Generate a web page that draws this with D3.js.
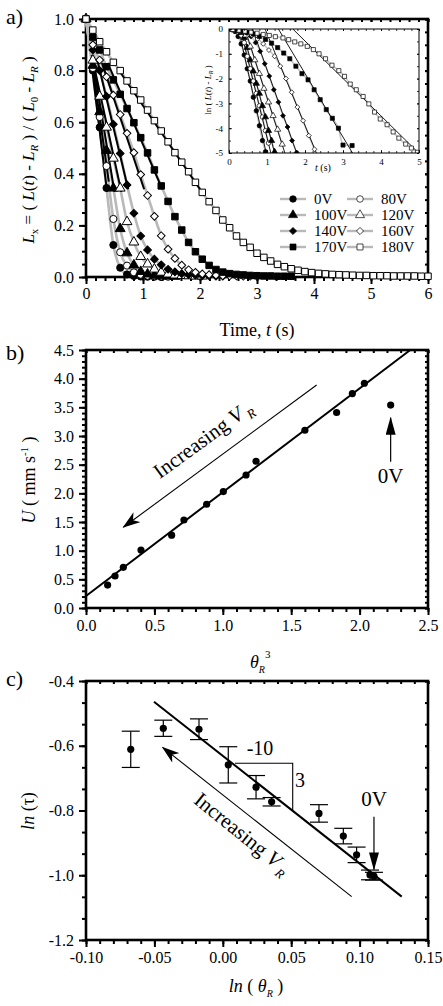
<!DOCTYPE html>
<html>
<head>
<meta charset="utf-8">
<script src="https://cdn.jsdelivr.net/npm/d3@7"></script>
<style>
body { margin: 0; background: #fff; }
svg text { font-family: "Liberation Serif", "Times New Roman", serif; fill: #000; }
</style>
</head>
<body>
<script>
// ---------- panel a : relaxation curves, one frame every 0.12 s ----------
const frameStep = 0.12;
const voltages = ['0V', '80V', '100V', '120V', '140V', '160V', '170V', '180V'];
const shapes = ['circle', 'circle', 'triangle', 'triangle', 'diamond', 'diamond', 'square', 'square'];
const filled = [true, false, true, false, true, false, true, false];

const lx0V   = [1.0, 0.80, 0.58, 0.345, 0.124, 0.036, 0.010, 0.004, 0.002, 0.001, 0.001, 0.0];
const lx80V  = [1.0, 0.81, 0.62, 0.43, 0.225, 0.096, 0.044, 0.018, 0.009, 0.005, 0.003, 0.002, 0.001];
const lx100V = [1.0, 0.82, 0.64, 0.49, 0.344, 0.187, 0.093, 0.046, 0.021, 0.011, 0.006, 0.004, 0.003, 0.002];
const lx120V = [1.0, 0.84, 0.70, 0.58, 0.46, 0.344, 0.214, 0.135, 0.079, 0.050, 0.030, 0.018, 0.011, 0.007, 0.005, 0.004, 0.003, 0.003];
const lx140V = [1.0, 0.88, 0.80, 0.70, 0.592, 0.479, 0.357, 0.247, 0.159, 0.105, 0.069, 0.047, 0.030, 0.020, 0.013, 0.009, 0.007, 0.005, 0.004, 0.003, 0.003];
const lx160V = [1.0, 0.90, 0.841, 0.776, 0.705, 0.630, 0.557, 0.482, 0.397, 0.316, 0.235, 0.160, 0.108, 0.072, 0.046, 0.028, 0.018, 0.012, 0.009, 0.007, 0.005, 0.004, 0.004, 0.003, 0.003, 0.003];
const lx170V = [1.0, 0.93, 0.88, 0.815, 0.764, 0.708, 0.653, 0.598, 0.540, 0.481, 0.415, 0.353, 0.293, 0.234, 0.182, 0.134, 0.098, 0.069, 0.045, 0.029, 0.019, 0.013, 0.010, 0.008, 0.006, 0.005, 0.004, 0.004, 0.003, 0.003, 0.003];
const lx180V = [1.0, 0.957, 0.912, 0.873, 0.832, 0.800, 0.760, 0.722, 0.686, 0.647, 0.606, 0.566, 0.524, 0.482, 0.445, 0.408, 0.367, 0.328, 0.292, 0.258, 0.221, 0.191, 0.159, 0.134, 0.115, 0.092, 0.076, 0.062, 0.049, 0.040, 0.032, 0.026, 0.021, 0.017, 0.014, 0.012, 0.010, 0.009, 0.008, 0.007, 0.006, 0.006, 0.005, 0.005, 0.005, 0.004, 0.004, 0.004, 0.004, 0.003, 0.003];
const lxSeries = [lx0V, lx80V, lx100V, lx120V, lx140V, lx160V, lx170V, lx180V];

// linear fits over the early part: [t start, Lx start, t end, Lx end]
const fitA = [
  [0.10, 0.82, 0.37, 0.33],
  [0.10, 0.84, 0.40, 0.37],
  [0.10, 0.86, 0.50, 0.33],
  [0.12, 0.84, 0.62, 0.33],
  [0.20, 0.84, 0.74, 0.34],
  [0.28, 0.83, 1.02, 0.34],
  [0.38, 0.83, 1.34, 0.34],
  [0.55, 0.81, 2.00, 0.34]
];

// inset: ln(L(t) - L_R) against t, [t, value]
const ins0V   = [[0.08,-0.03],[0.16,-0.10],[0.24,-0.30],[0.32,-0.60],[0.40,-1.05],[0.48,-1.60],[0.56,-2.10],[0.64,-2.75],[0.72,-3.30],[0.80,-3.90],[0.88,-4.50],[0.96,-4.95]];
const ins80V  = [[0.08,-0.02],[0.16,-0.06],[0.24,-0.12],[0.32,-0.25],[0.40,-0.55],[0.48,-1.10],[0.56,-1.60],[0.64,-2.10],[0.72,-2.60],[0.80,-3.10],[0.88,-3.55],[0.96,-4.10],[1.04,-4.60]];
const ins100V = [[0.08,-0.01],[0.16,-0.03],[0.24,-0.07],[0.32,-0.15],[0.40,-0.35],[0.48,-0.75],[0.56,-1.25],[0.64,-1.70],[0.72,-2.20],[0.80,-2.60],[0.88,-3.10],[0.96,-3.55],[1.04,-4.10],[1.12,-4.50],[1.20,-4.95]];
const ins120V = [[0.08,-0.01],[0.20,-0.04],[0.32,-0.10],[0.44,-0.25],[0.56,-0.70],[0.68,-1.25],[0.80,-1.80],[0.92,-2.40],[1.04,-2.95],[1.16,-3.50],[1.28,-4.05],[1.40,-4.65]];
const ins140V = [[0.10,-0.01],[0.22,-0.03],[0.34,-0.07],[0.46,-0.15],[0.58,-0.30],[0.70,-0.55],[0.82,-0.90],[0.94,-1.40],[1.06,-1.90],[1.18,-2.45],[1.30,-2.95],[1.42,-3.50],[1.54,-3.95],[1.66,-4.50],[1.78,-4.98]];
const ins160V = [[0.15,-0.02],[0.30,-0.06],[0.45,-0.13],[0.60,-0.25],[0.75,-0.40],[0.90,-0.60],[1.05,-0.85],[1.20,-1.10],[1.35,-1.50],[1.50,-2.00],[1.65,-2.55],[1.80,-3.15],[1.95,-3.70],[2.10,-4.30],[2.25,-4.85]];
const ins170V = [[0.16,-0.03],[0.32,-0.07],[0.48,-0.13],[0.64,-0.20],[0.80,-0.30],[0.96,-0.42],[1.12,-0.57],[1.28,-0.75],[1.44,-0.97],[1.60,-1.20],[1.76,-1.50],[1.92,-1.80],[2.08,-2.05],[2.24,-2.45],[2.40,-2.85],[2.56,-3.25],[2.72,-3.60],[2.88,-4.00],[3.00,-4.68],[3.24,-4.70]];
const ins180V = [[0.10,-0.02],[0.26,-0.05],[0.42,-0.09],[0.58,-0.13],[0.74,-0.17],[0.90,-0.22],[1.06,-0.26],[1.22,-0.31],[1.42,-0.36],[1.57,-0.43],[1.73,-0.52],[1.89,-0.60],[2.06,-0.70],[2.22,-0.83],[2.37,-1.00],[2.54,-1.20],[2.71,-1.46],[2.89,-1.68],[3.04,-1.91],[3.19,-2.22],[3.35,-2.45],[3.53,-2.72],[3.68,-3.02],[3.83,-3.35],[3.98,-3.63],[4.16,-3.86],[4.32,-4.15],[4.47,-4.40],[4.65,-4.64],[4.80,-4.80],[4.96,-4.97]];
const insSeries = [ins0V, ins80V, ins100V, ins120V, ins140V, ins160V, ins170V, ins180V];
// inset fits: t where the line is at 0 and at -5
const fitInset = [[0.25, 0.98], [0.30, 1.10], [0.35, 1.20], [0.42, 1.47], [0.62, 1.78], [0.95, 2.30], [1.30, 3.25], [1.68, 4.99]];

// ---------- panel b : speed vs theta^3 ----------
const thetaR3 = [0.158, 0.212, 0.273, 0.402, 0.626, 0.716, 0.882, 1.004, 1.170, 1.243, 1.600, 1.832, 1.947, 2.035];
const speedU  = [0.40, 0.558, 0.71, 1.01, 1.27, 1.535, 1.81, 2.03, 2.32, 2.56, 3.10, 3.41, 3.74, 3.92];
const zeroVoltB = [2.227, 3.54];
const fitB = [0.21, 1.81]; // intercept, slope

// ---------- panel c : ln(tau) vs ln(theta) ----------
const lnTheta = [-0.0673, -0.0435, -0.0174, 0.004, 0.0243, 0.0357, 0.0703, 0.0881, 0.0978, 0.1076, 0.1105];
const lnTau   = [-0.611, -0.546, -0.549, -0.659, -0.728, -0.773, -0.809, -0.879, -0.937, -0.999, -1.003];
const tauErr  = [0.056, 0.025, 0.032, 0.056, 0.036, 0.013, 0.027, 0.024, 0.024, 0.015, 0.012];
const fitC = [[-0.0503, -0.464], [0.1308, -1.066]];

const W = 443, H = 1006;
const svg = d3.select('body').append('svg').attr('width', W).attr('height', H);
const defs = svg.append('defs');

const xA = d3.scaleLinear().domain([0, 6]).range([86, 428]);
const yA = d3.scaleLinear().domain([0, 1]).range([277, 19]);
const xI = d3.scaleLinear().domain([0, 5]).range([229, 419]);
const yI = d3.scaleLinear().domain([-5, 0]).range([153, 29]);
const xB = d3.scaleLinear().domain([0, 2.5]).range([86, 428]);
const yB = d3.scaleLinear().domain([0, 4.5]).range([608, 350]);
const xC = d3.scaleLinear().domain([-0.1, 0.15]).range([86, 428]);
const yC = d3.scaleLinear().domain([-1.2, -0.4]).range([940, 681]);

// arrow heads
defs.append('marker').attr('id', 'headDart').attr('viewBox', '0 0 18 12').attr('refX', 17).attr('refY', 6)
  .attr('markerWidth', 18).attr('markerHeight', 12).attr('markerUnits', 'userSpaceOnUse').attr('orient', 'auto')
  .append('path').attr('d', 'M0,0 L18,6 L0,12 L5,6 Z').attr('fill', '#000');
defs.append('marker').attr('id', 'headTri').attr('viewBox', '0 0 18 10').attr('refX', 17).attr('refY', 5)
  .attr('markerWidth', 18).attr('markerHeight', 10).attr('markerUnits', 'userSpaceOnUse').attr('orient', 'auto')
  .append('path').attr('d', 'M0,0 L18,5 L0,10 Z').attr('fill', '#000');

const symbolType = {circle: d3.symbolCircle, triangle: d3.symbolTriangle, square: d3.symbolSquare, diamond: d3.symbolSquare};

function drawMarkers(g, pts, k, scale) {
  const s = scale || 1;
  const size = {circle: 40, triangle: 42, square: 42, diamond: 30}[shapes[k]] * s;
  g.selectAll(null).data(pts).enter().append('path')
    .attr('d', d3.symbol().type(symbolType[shapes[k]]).size(size))
    .attr('transform', d => 'translate(' + d[0] + ',' + d[1] + ')' + (shapes[k] === 'diamond' ? ' rotate(45)' : ''))
    .attr('fill', filled[k] ? '#000' : '#fff')
    .attr('stroke', '#000')
    .attr('stroke-width', s < 1 ? 0.7 : 1);
}

function frame(g, x, y, o) {
  const [xl, xr] = x.range();
  const [yb, yt] = y.range();
  const ax = [];
  ax.push(g.append('g').attr('transform', 'translate(0,' + yb + ')')
    .call(d3.axisBottom(x).tickValues(o.xMinor).tickSize(o.minLen).tickFormat('')));
  ax.push(g.append('g').attr('transform', 'translate(0,' + yb + ')')
    .call(d3.axisBottom(x).tickValues(o.xMajor).tickSize(o.majLen).tickPadding(o.padX).tickFormat(o.fmtX)));
  ax.push(g.append('g').attr('transform', 'translate(' + xl + ',0)')
    .call(d3.axisLeft(y).tickValues(o.yMinor).tickSize(o.minLen).tickFormat('')));
  ax.push(g.append('g').attr('transform', 'translate(' + xl + ',0)')
    .call(d3.axisLeft(y).tickValues(o.yMajor).tickSize(o.majLen).tickPadding(o.padY).tickFormat(o.fmtY)));
  ax.push(g.append('g').attr('transform', 'translate(0,' + yt + ')')
    .call(d3.axisTop(x).tickValues(o.xMinor.concat(o.xMajor)).tickSize(-o.inLen).tickFormat('')));
  ax.push(g.append('g').attr('transform', 'translate(' + xr + ',0)')
    .call(d3.axisRight(y).tickValues(o.yMinor.concat(o.yMajor)).tickSize(-o.inLen).tickFormat('')));
  ax.forEach(a => {
    a.attr('font-family', null).attr('font-size', o.fs);
    a.select('.domain').remove();
    a.selectAll('.tick line').attr('stroke-width', o.tickW);
  });
  g.append('rect')
    .attr('x', xl).attr('y', yt).attr('width', xr - xl).attr('height', yb - yt)
    .attr('fill', 'none').attr('stroke', '#000').attr('stroke-width', o.frameW);
}

function steps(a, b, n) {
  const out = [];
  for (let i = 0; i <= n; i++) out.push(a + (b - a) * i / n);
  return out;
}

// ===== panel a =====
const gA = svg.append('g');
frame(gA, xA, yA, {
  xMajor: [0, 1, 2, 3, 4, 5, 6], xMinor: steps(0, 6, 36),
  yMajor: [0, 0.2, 0.4, 0.6, 0.8, 1.0], yMinor: steps(0, 1, 20),
  majLen: 7, minLen: 4, inLen: 3, padX: 4, padY: 5, fs: 16, tickW: 2, frameW: 2.6,
  fmtX: d => d.toFixed(0), fmtY: d => d.toFixed(1)
});

const grayLine = d3.line().curve(d3.curveMonotoneX);
lxSeries.forEach((s, k) => {
  const pts = s.map((v, i) => [xA(i * frameStep), yA(v)]);
  gA.append('path').attr('d', grayLine(pts)).attr('fill', 'none')
    .attr('stroke', '#b9b9b9').attr('stroke-width', 2.6);
});
fitA.forEach(f => {
  gA.append('line')
    .attr('x1', xA(f[0])).attr('y1', yA(f[1])).attr('x2', xA(f[2])).attr('y2', yA(f[3]))
    .attr('stroke', '#000').attr('stroke-width', 2);
});
lxSeries.forEach((s, k) => {
  drawMarkers(gA, s.map((v, i) => [xA(i * frameStep), yA(v)]), k);
});

gA.append('text').attr('x', 6).attr('y', 24).attr('font-size', 22).text('a)');
gA.append('text').attr('x', 257).attr('y', 336).attr('font-size', 18).attr('text-anchor', 'middle')
  .html('Time, <tspan font-style="italic">t</tspan> (s)');
gA.append('text').attr('transform', 'translate(34,150) rotate(-90)').attr('font-size', 17).attr('text-anchor', 'middle')
  .html('<tspan font-style="italic">L</tspan><tspan font-size="11" dy="4">x</tspan><tspan dy="-4"> = ( </tspan><tspan font-style="italic">L</tspan>(<tspan font-style="italic">t</tspan>) - <tspan font-style="italic">L</tspan><tspan font-size="11" font-style="italic" dy="4">R</tspan><tspan dy="-4"> ) / ( </tspan><tspan font-style="italic">L</tspan><tspan font-size="11" dy="4">0</tspan><tspan dy="-4"> - </tspan><tspan font-style="italic">L</tspan><tspan font-size="11" font-style="italic" dy="4">R</tspan><tspan dy="-4"> )</tspan>');

// legend
const legendRows = [199, 215, 231, 247];
voltages.forEach((v, k) => {
  const col = k % 2, row = Math.floor(k / 2);
  const x0 = col === 0 ? 280 : 347, y0 = legendRows[row];
  gA.append('line').attr('x1', x0).attr('x2', x0 + 26).attr('y1', y0).attr('y2', y0)
    .attr('stroke', '#b9b9b9').attr('stroke-width', 2.4);
  drawMarkers(gA, [[x0 + 13, y0]], k, 0.85);
  gA.append('text').attr('x', x0 + 34).attr('y', y0 + 5).attr('font-size', 15).text(v);
});

// inset
const gI = svg.append('g');
gI.append('rect').attr('x', 229).attr('y', 29).attr('width', 190).attr('height', 124).attr('fill', '#fff');
defs.append('clipPath').attr('id', 'insetClip')
  .append('rect').attr('x', 229).attr('y', 29).attr('width', 190).attr('height', 124);
const gIc = gI.append('g').attr('clip-path', 'url(#insetClip)');
insSeries.forEach(s => {
  gIc.append('path').attr('d', grayLine(s.map(p => [xI(p[0]), yI(p[1])]))).attr('fill', 'none')
    .attr('stroke', '#c4c4c4').attr('stroke-width', 1.6);
});
fitInset.forEach(f => {
  gIc.append('line').attr('x1', xI(f[0])).attr('y1', yI(0)).attr('x2', xI(f[1])).attr('y2', yI(-5))
    .attr('stroke', '#000').attr('stroke-width', 0.9);
});
insSeries.forEach((s, k) => drawMarkers(gIc, s.map(p => [xI(p[0]), yI(p[1])]), k, 0.4));
const insAxes = gI.append('g');
frame(insAxes, xI, yI, {
  xMajor: [0, 1, 2, 3, 4, 5], xMinor: steps(0, 5, 25),
  yMajor: [-5, -4, -3, -2, -1, 0], yMinor: steps(-5, 0, 10),
  majLen: -3, minLen: -2, inLen: 2, padX: 6, padY: 6, fs: 9, tickW: 0.8, frameW: 1,
  fmtX: d => d.toFixed(0), fmtY: d => d.toFixed(0)
});
gI.append('text').attr('x', 323).attr('y', 171).attr('font-size', 10).attr('text-anchor', 'middle')
  .html('<tspan font-style="italic">t</tspan> (s)');
gI.append('text').attr('transform', 'translate(211,90) rotate(-90)').attr('font-size', 9).attr('text-anchor', 'middle')
  .html('ln ( <tspan font-style="italic">L</tspan>(<tspan font-style="italic">t</tspan>) - <tspan font-style="italic">L</tspan><tspan font-size="6" font-style="italic" dy="2">R</tspan><tspan dy="-2"> )</tspan>');

// ===== panel b =====
const gB = svg.append('g');
frame(gB, xB, yB, {
  xMajor: [0, 0.5, 1, 1.5, 2, 2.5], xMinor: steps(0, 2.5, 25),
  yMajor: steps(0, 4.5, 9), yMinor: steps(0, 4.5, 45),
  majLen: 7, minLen: 4, inLen: 3, padX: 5, padY: 5, fs: 16, tickW: 2, frameW: 2.6,
  fmtX: d => d.toFixed(1), fmtY: d => d.toFixed(1)
});
const xEndB = (4.5 - fitB[0]) / fitB[1];
gB.append('line').attr('x1', xB(0)).attr('y1', yB(fitB[0])).attr('x2', xB(xEndB)).attr('y2', yB(4.5))
  .attr('stroke', '#000').attr('stroke-width', 2);
gB.selectAll(null).data(thetaR3).enter().append('circle')
  .attr('cx', d => xB(d)).attr('cy', (d, i) => yB(speedU[i])).attr('r', 3.6).attr('fill', '#000');
gB.append('circle').attr('cx', xB(zeroVoltB[0])).attr('cy', yB(zeroVoltB[1])).attr('r', 3.6).attr('fill', '#000');

gB.append('line').attr('x1', xB(1.686)).attr('y1', yB(3.89)).attr('x2', xB(0.273)).attr('y2', yB(1.408))
  .attr('stroke', '#000').attr('stroke-width', 1.1).attr('marker-end', 'url(#headDart)');
gB.append('text').attr('transform', 'translate(207,445) rotate(-36)').attr('font-size', 21).attr('text-anchor', 'middle')
  .html('Increasing <tspan font-style="italic">V</tspan><tspan font-size="13" font-style="italic" dy="5"> R</tspan>');
gB.append('line').attr('x1', xB(zeroVoltB[0])).attr('y1', yB(2.55)).attr('x2', xB(zeroVoltB[0])).attr('y2', yB(3.32))
  .attr('stroke', '#000').attr('stroke-width', 1.2).attr('marker-end', 'url(#headTri)');
gB.append('text').attr('x', xB(zeroVoltB[0])).attr('y', 483).attr('font-size', 21).attr('text-anchor', 'middle').text('0V');

gB.append('text').attr('x', 6).attr('y', 360).attr('font-size', 22).text('b)');
gB.append('text').attr('x', 250).attr('y', 668).attr('font-size', 18)
  .html('<tspan font-style="italic">θ</tspan><tspan font-size="10" font-style="italic" dy="5">R</tspan><tspan font-size="11" dy="-15">3</tspan>');
gB.append('text').attr('transform', 'translate(35,480) rotate(-90)').attr('font-size', 18).attr('text-anchor', 'middle')
  .html('<tspan font-style="italic">U</tspan> ( mm s<tspan font-size="11" dy="-7">-1</tspan><tspan dy="7"> )</tspan>');

// ===== panel c =====
const gC = svg.append('g');
frame(gC, xC, yC, {
  xMajor: [-0.1, -0.05, 0, 0.05, 0.1, 0.15], xMinor: steps(-0.1, 0.15, 25),
  yMajor: [-1.2, -1.0, -0.8, -0.6, -0.4], yMinor: steps(-1.2, -0.4, 12),
  majLen: 7, minLen: 4, inLen: 3, padX: 5, padY: 5, fs: 16, tickW: 2, frameW: 2.6,
  fmtX: d => d.toFixed(2), fmtY: d => d.toFixed(1)
});
gC.append('line').attr('x1', xC(fitC[0][0])).attr('y1', yC(fitC[0][1])).attr('x2', xC(fitC[1][0])).attr('y2', yC(fitC[1][1]))
  .attr('stroke', '#000').attr('stroke-width', 2);
// slope triangle
gC.append('path').attr('d', 'M' + xC(0.0089) + ',' + yC(-0.654) + 'H' + xC(0.0511) + 'V' + yC(-0.801))
  .attr('fill', 'none').attr('stroke', '#000').attr('stroke-width', 1.1);
gC.append('text').attr('x', 260).attr('y', 755).attr('font-size', 20).attr('text-anchor', 'middle').text('-10');
gC.append('text').attr('x', 300).attr('y', 787).attr('font-size', 20).attr('text-anchor', 'middle').text('3');

const bars = gC.selectAll(null).data(lnTheta).enter().append('g');
bars.append('line').attr('x1', d => xC(d)).attr('x2', d => xC(d))
  .attr('y1', (d, i) => yC(lnTau[i] - tauErr[i])).attr('y2', (d, i) => yC(lnTau[i] + tauErr[i]))
  .attr('stroke', '#000').attr('stroke-width', 1.2);
[-1, 1].forEach(sg => {
  bars.append('line').attr('x1', d => xC(d) - 9).attr('x2', d => xC(d) + 9)
    .attr('y1', (d, i) => yC(lnTau[i] + sg * tauErr[i])).attr('y2', (d, i) => yC(lnTau[i] + sg * tauErr[i]))
    .attr('stroke', '#000').attr('stroke-width', 1.2);
});
bars.append('circle').attr('cx', d => xC(d)).attr('cy', (d, i) => yC(lnTau[i])).attr('r', 3.6).attr('fill', '#000');

gC.append('line').attr('x1', xC(0.0942)).attr('y1', yC(-1.066)).attr('x2', xC(-0.044)).attr('y2', yC(-0.605))
  .attr('stroke', '#000').attr('stroke-width', 1.1).attr('marker-end', 'url(#headDart)');
gC.append('text').attr('transform', 'translate(238,839) rotate(39)').attr('font-size', 21).attr('text-anchor', 'middle')
  .html('Increasing <tspan font-style="italic">V</tspan><tspan font-size="13" font-style="italic" dy="5"> R</tspan>');
gC.append('line').attr('x1', xC(0.1105)).attr('y1', yC(-0.819)).attr('x2', xC(0.1105)).attr('y2', yC(-0.982))
  .attr('stroke', '#000').attr('stroke-width', 1.2).attr('marker-end', 'url(#headTri)');
gC.append('text').attr('x', xC(0.1105)).attr('y', 806).attr('font-size', 21).attr('text-anchor', 'middle').text('0V');

gC.append('text').attr('x', 6).attr('y', 686).attr('font-size', 22).text('c)');
gC.append('text').attr('x', 256).attr('y', 992).attr('font-size', 18).attr('text-anchor', 'middle')
  .html('<tspan font-style="italic">ln</tspan> ( <tspan font-style="italic">θ</tspan><tspan font-size="10" font-style="italic" dy="5">R</tspan><tspan dy="-5"> )</tspan>');
gC.append('text').attr('transform', 'translate(34,811) rotate(-90)').attr('font-size', 18).attr('text-anchor', 'middle')
  .html('<tspan font-style="italic">ln</tspan> (τ)');
</script>
</body>
</html>
